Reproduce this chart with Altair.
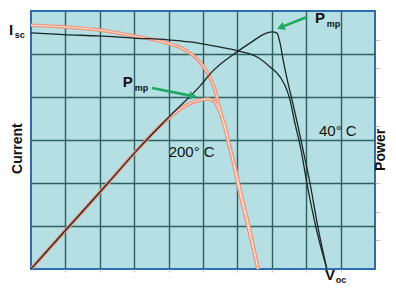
import altair as alt
import pandas as pd

# ---- data (voltage and current in grid divisions, power in right-axis divisions) ----
v40_iv = [0, 0.96, 1.98, 2.99, 3.98, 4.62, 5.29, 6.02, 6.57, 6.95, 7.24, 7.44, 7.53, 7.65, 7.85, 8.02, 8.28, 8.60]
i40 = [5.49, 5.45, 5.42, 5.37, 5.33, 5.28, 5.19, 5.07, 4.93, 4.70, 4.47, 4.16, 3.93, 3.47, 2.77, 2.00, 0.98, 0]

v40_pv = [0, 0.96, 2.24, 3.17, 4.04, 4.91, 5.29, 6.02, 6.45, 6.72, 7.01, 7.15, 7.24, 7.33, 7.47, 7.59, 7.91, 8.11, 8.34, 8.60]
p40 = [0, 1.29, 3.0, 4.26, 5.34, 6.38, 6.91, 7.60, 7.95, 8.16, 8.27, 8.23, 7.88, 7.29, 6.49, 5.89, 4.15, 3.0, 1.46, 0]

v200_iv = [0, 0.96, 1.98, 2.99, 3.84, 4.42, 4.83, 5.12, 5.35, 5.49, 5.73, 5.90, 6.05, 6.31, 6.60]
i200 = [5.67, 5.63, 5.56, 5.42, 5.28, 5.12, 4.88, 4.58, 4.16, 3.70, 3.0, 2.42, 1.84, 0.98, 0]

v200_pv = [0, 0.96, 2.24, 3.17, 3.63, 4.04, 4.48, 4.91, 5.15, 5.35, 5.49, 5.67, 5.76, 5.93, 6.08, 6.34, 6.60]
p200 = [0, 1.29, 3.0, 4.26, 4.85, 5.30, 5.69, 5.89, 5.93, 5.82, 5.48, 4.85, 4.33, 3.56, 2.76, 1.46, 0]

grid_v = [1, 2, 3, 4, 5, 6, 7, 8, 9]
grid_i = [1, 2, 3, 4, 5]
power_ticks = [1, 2, 3, 4, 5, 6, 7, 8]

# annotations (data coordinates)
arrow_v_start = [3.52, 8.02]
arrow_i_start = [4.21, 5.86]
arrow_v_end = [4.71, 7.26]
arrow_i_end = [4.02, 5.62]

big_labels = ["I", "V", "P", "P"]
big_v = [-0.58, 8.69, 2.81, 8.40]
big_i = [5.56, -0.15, 4.35, 5.84]

sub_labels = ["sc", "oc", "mp", "mp"]
sub_v = [-0.33, 9.01, 3.21, 8.79]
sub_i = [5.44, -0.26, 4.21, 5.70]

temp_labels = ["40° C", "200° C"]
temp_v = [8.92, 4.67]
temp_i = [3.22, 2.71]

axis_labels = ["Current", "Power"]
axis_v = [-0.39, 10.16]
axis_i = [2.80, 2.77]

# ---- styles ----
FONT = "Liberation Sans"
SALMON = "#f0957c"
SALMON_IN = "#fde2d8"
BLACK = "#1a2727"
GREEN = "#1fa863"
GRID = "#2f5f5f"

xs = alt.Scale(domain=[0, 10], nice=False, zero=False)
ys_i = alt.Scale(domain=[0, 6], nice=False, zero=False)
ys_p = alt.Scale(domain=[0, 9], nice=False, zero=False)

x_axis = alt.Axis(values=grid_v, grid=True, gridColor=GRID, gridWidth=1.4, gridOpacity=1,
                  labels=False, ticks=True, tickColor="#c8c8c8", tickSize=3,
                  domain=False, title=None)
y_axis = alt.Axis(values=grid_i, grid=True, gridColor=GRID, gridWidth=1.4, gridOpacity=1,
                  labels=False, ticks=False, domain=False, title=None, orient="left")
p_axis = alt.Axis(values=power_ticks, grid=False, labels=False, ticks=True,
                  tickColor="#b8b8b8", tickSize=4, domain=False, title=None, orient="right")


def X(field="V"):
    return alt.X(f"{field}:Q", scale=xs, axis=x_axis)


def Yi(field="I", axis=None):
    return alt.Y(f"{field}:Q", scale=ys_i, axis=axis)


def Yp(field="P", axis=None):
    return alt.Y(f"{field}:Q", scale=ys_p, axis=axis)


iv40 = pd.DataFrame({"V": v40_iv, "I": i40})
pv40 = pd.DataFrame({"V": v40_pv, "P": p40})
iv200 = pd.DataFrame({"V": v200_iv, "I": i200})
pv200 = pd.DataFrame({"V": v200_pv, "P": p200})

line_kw = dict(interpolate="monotone", clip=True)

s_iv_out = alt.Chart(iv200).mark_line(color=SALMON, strokeWidth=3.6, **line_kw).encode(
    x=X(), y=Yi(axis=y_axis))
s_iv_in = alt.Chart(iv200).mark_line(color=SALMON_IN, strokeWidth=1.0, **line_kw).encode(
    x=X(), y=Yi())
s_pv_out = alt.Chart(pv200).mark_line(color=SALMON, strokeWidth=3.6, **line_kw).encode(
    x=X(), y=Yp(axis=p_axis))
s_pv_in = alt.Chart(pv200).mark_line(color=SALMON_IN, strokeWidth=1.0, **line_kw).encode(
    x=X(), y=Yp())
b_iv = alt.Chart(iv40).mark_line(color=BLACK, strokeWidth=1.3, **line_kw).encode(x=X(), y=Yi())
b_pv = alt.Chart(pv40).mark_line(color=BLACK, strokeWidth=1.3, **line_kw).encode(x=X(), y=Yp())

arrows = pd.DataFrame({"V": arrow_v_start, "I": arrow_i_start, "V2": arrow_v_end, "I2": arrow_i_end})
shafts = alt.Chart(arrows).mark_rule(color=GREEN, strokeWidth=2.6).encode(
    x=X(), y=Yi(), x2="V2:Q", y2="I2:Q")
head1 = alt.Chart(arrows.iloc[[0]]).mark_point(shape="triangle-right", filled=True, size=75,
                                               color=GREEN, opacity=1, angle=11).encode(
    x=X("V2"), y=Yi("I2"))
head2 = alt.Chart(arrows.iloc[[1]]).mark_point(shape="triangle-right", filled=True, size=75,
                                               color=GREEN, opacity=1, angle=158).encode(
    x=X("V2"), y=Yi("I2"))

big = alt.Chart(pd.DataFrame({"t": big_labels, "V": big_v, "I": big_i})).mark_text(
    font=FONT, fontSize=15, fontWeight="bold", color="#111", align="center", baseline="middle").encode(
    x=X(), y=Yi(), text="t:N")
sub = alt.Chart(pd.DataFrame({"t": sub_labels, "V": sub_v, "I": sub_i})).mark_text(
    font=FONT, fontSize=9, fontWeight="bold", color="#111", align="center", baseline="middle").encode(
    x=X(), y=Yi(), text="t:N")
temps = alt.Chart(pd.DataFrame({"t": temp_labels, "V": temp_v, "I": temp_i})).mark_text(
    font=FONT, fontSize=15, color="#111", align="center", baseline="middle").encode(
    x=X(), y=Yi(), text="t:N")
axl = alt.Chart(pd.DataFrame({"t": axis_labels, "V": axis_v, "I": axis_i})).mark_text(
    font=FONT, fontSize=14, fontWeight="bold", color="#111", align="center", baseline="middle",
    angle=270).encode(x=X(), y=Yi(), text="t:N")

chart = alt.layer(
    s_iv_out, s_pv_out, s_iv_in, s_pv_in, b_iv, b_pv, shafts, head1, head2, big, sub, temps, axl
).resolve_scale(y="independent").properties(
    width=344, height=258,
    autosize=alt.AutoSizeParams(type="none"),
    padding={"left": 23, "top": 3, "right": 13, "bottom": 15},
    background="white",
).configure_view(
    fill="#b5dfe2", stroke="#2e6cb2", strokeWidth=2
)

chart.save("out.html", embed_options={"renderer": "svg", "actions": False})
